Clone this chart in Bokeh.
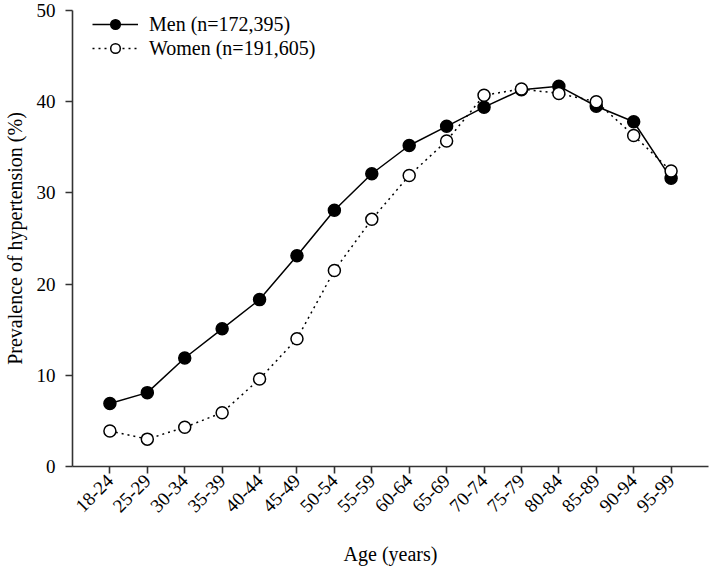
import math
from bokeh.plotting import figure
from bokeh.models import Range1d, FixedTicker, Legend, LegendItem, ColumnDataSource
from bokeh.embed import file_html
from bokeh.resources import INLINE

# ---- data ----
age_groups = ["18-24", "25-29", "30-34", "35-39", "40-44", "45-49", "50-54", "55-59",
              "60-64", "65-69", "70-74", "75-79", "80-84", "85-89", "90-94", "95-99"]
men = [6.9, 8.1, 11.9, 15.1, 18.3, 23.1, 28.1, 32.1, 35.2, 37.3, 39.4, 41.3, 41.7, 39.5, 37.8, 31.6]
women = [3.9, 3.0, 4.3, 5.9, 9.6, 14.0, 21.5, 27.1, 31.9, 35.7, 40.7, 41.4, 40.9, 40.0, 36.3, 32.4]
y_ticks = [0, 10, 20, 30, 40, 50]
men_label = "Men (n=172,395)"
women_label = "Women (n=191,605)"

xpos = list(range(1, len(age_groups) + 1))
src = ColumnDataSource(dict(x=xpos, men=men, women=women))

FONT = "Liberation Serif"
INK = "#000000"
AX = "#333333"

p = figure(width=709, height=568, output_backend="svg", toolbar_location=None,
           x_range=Range1d(0, len(age_groups) + 1), y_range=Range1d(0, 50),
           min_border_left=71, min_border_right=1, min_border_top=10, min_border_bottom=102)
p.outline_line_color = None
p.grid.visible = False
p.background_fill_color = "white"
p.border_fill_color = "white"

# axes
p.xaxis.ticker = FixedTicker(ticks=xpos)
p.xaxis.major_label_overrides = {x: lab for x, lab in zip(xpos, age_groups)}
p.xaxis.major_label_orientation = math.pi / 4
p.yaxis.ticker = FixedTicker(ticks=y_ticks)
for ax in (p.xaxis, p.yaxis):
    ax.axis_line_color = AX
    ax.axis_line_width = 1.6
    ax.major_tick_line_color = AX
    ax.major_tick_line_width = 1.6
    ax.major_tick_in = 0
    ax.major_tick_out = 7
    ax.minor_tick_line_color = None
    ax.major_label_text_font = FONT
    ax.major_label_text_font_size = "19px"
    ax.major_label_text_color = INK
    ax.axis_label_text_font = FONT
    ax.axis_label_text_font_size = "20px"
    ax.axis_label_text_font_style = "normal"
    ax.axis_label_text_color = INK
p.xaxis.axis_label = "Age (years)"
p.yaxis.axis_label = "Prevalence of hypertension (%)"
p.xaxis.major_label_standoff = 4
p.xaxis.axis_label_standoff = 22
p.yaxis.major_label_standoff = 10
p.yaxis.axis_label_standoff = 8

# series
men_line = p.line("x", "men", source=src, line_color=INK, line_width=1.5)
men_pts = p.scatter("x", "men", source=src, size=12, fill_color=INK, line_color=INK, line_width=1.5)
women_line = p.line("x", "women", source=src, line_color=INK, line_width=1.5, line_dash="2 4")
women_pts = p.scatter("x", "women", source=src, size=12, fill_color="white", line_color=INK, line_width=1.5)

legend = Legend(items=[LegendItem(label=men_label, renderers=[men_line, men_pts]),
                       LegendItem(label=women_label, renderers=[women_line, women_pts])],
                orientation="vertical")
legend.margin = 0
legend.padding = 0
legend.spacing = -1
legend.glyph_width = 46
legend.glyph_height = 24
legend.label_standoff = 11
legend.label_text_font = FONT
legend.label_text_font_size = "20px"
legend.label_text_color = INK
legend.border_line_color = None
legend.background_fill_alpha = 0
legend.location = (20, 456 - 47 - 3)
p.add_layout(legend, "center")

open("out.html", "w").write(file_html(p, INLINE))
